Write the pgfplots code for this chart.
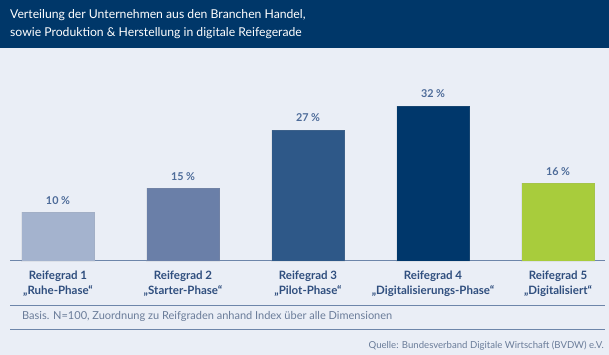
\documentclass[border=0pt]{standalone}
\usepackage{fontspec}
\setmainfont{Lato}
\usepackage{pgfplots}
\pgfplotsset{compat=1.18}
\definecolor{navy}{HTML}{003769}
\definecolor{bgc}{HTML}{EAEEF6}
\definecolor{cA}{HTML}{A4B3CE}
\definecolor{cB}{HTML}{6A7FA8}
\definecolor{cC}{HTML}{2E5888}
\definecolor{cD}{HTML}{00376B}
\definecolor{cE}{HTML}{A8CC3C}
\definecolor{linec}{HTML}{6E86AA}
\definecolor{labc}{HTML}{2F4E7E}
\definecolor{valc}{HTML}{4D6B99}
\definecolor{notec}{HTML}{6A7C99}
\begin{document}
\begin{tikzpicture}[x=1pt,y=1pt]
\fill[bgc] (0,0) rectangle (609,355);
\fill[navy] (0,307.3) rectangle (609,355);
\node[anchor=base west, text=white, font=\fontsize{12.2}{15}\selectfont, inner sep=0] at (10,336.5) {Verteilung der Unternehmen aus den Branchen Handel,};
\node[anchor=base west, text=white, font=\fontsize{12.2}{15}\selectfont, inner sep=0] at (10,318.3) {sowie Produktion \& Herstellung in digitale Reifegerade};
\begin{axis}[
  at={(10pt,94pt)}, anchor=south west,
  width=595pt, height=213pt, scale only axis,
  xmin=-0.384, xmax=4.376, ymin=0, ymax=43.92,
  axis y line=none, axis x line*=bottom,
  x axis line style={linec, line width=1pt, -},
  ybar, bar width=73pt,
  every axis plot/.append style={bar shift=0pt, draw=white!60!black, draw opacity=0.15},
  xtick={0,1,2,3,4}, major tick length=0pt,
  xticklabels={{\textbf{Reifegrad 1}\\\textbf{„Ruhe-Phase“}},
               {\textbf{Reifegrad 2}\\\textbf{„Starter-Phase“}},
               {\textbf{Reifegrad 3}\\\textbf{„Pilot-Phase“}},
               {\textbf{Reifegrad 4}\\\textbf{„Digitalisierungs-Phase“}},
               {\textbf{Reifegrad 5}\\\textbf{„Digitalisiert“}}},
  xticklabel style={align=center, text=labc, font=\fontsize{11.5}{15}\selectfont, yshift=-6.5pt},
  /pgf/number format/assume math mode=true,
  nodes near coords={\pgfmathprintnumber[fixed,precision=0]{\pgfplotspointmeta}~\%},
  nodes near coords style={text=valc, font=\fontsize{10.8}{12}\selectfont\bfseries, yshift=4.5pt},
  clip=false,
]
\addplot[fill=cA] coordinates {(0,10)};
\addplot[fill=cB] coordinates {(1,15)};
\addplot[fill=cC] coordinates {(2,27)};
\addplot[fill=cD] coordinates {(3,32)};
\addplot[fill=cE] coordinates {(4,16)};
\end{axis}
\draw[linec, line width=1pt] (10,49) -- (605,49);
\draw[linec, line width=1pt] (10,25) -- (605,25);
\node[anchor=base west, text=notec, font=\fontsize{11}{12}\selectfont, inner sep=0] at (22,35) {Basis. N=100, Zuordnung zu Reifgraden anhand Index über alle Dimensionen};
\node[anchor=base east, text=notec, font=\fontsize{9.6}{10}\selectfont, inner sep=0] at (604,6.5) {Quelle: Bundesverband Digitale Wirtschaft (BVDW) e.V.};
\end{tikzpicture}
\end{document}
